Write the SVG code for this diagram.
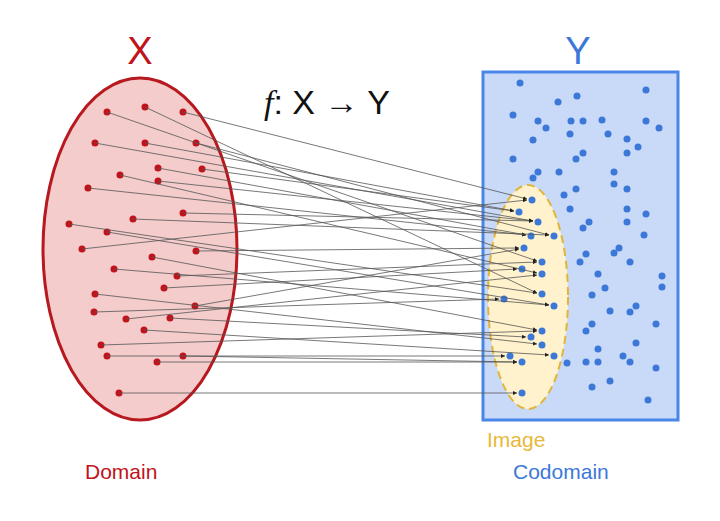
<svg xmlns="http://www.w3.org/2000/svg" width="720" height="521" viewBox="0 0 720 521">
<style>
.r{fill:#c0131b}
.b{fill:#3c78d8}
.c{stroke:#555;stroke-width:0.8;fill:none;marker-end:url(#a)}
text{font-family:"Liberation Sans",Arial,sans-serif}
</style>
<defs>
<marker id="a" viewBox="0 0 6 6" refX="6" refY="3" markerWidth="5" markerHeight="5" orient="auto"><path d="M0,0L6,3L0,6z" fill="#222"/></marker>
</defs>
<rect width="720" height="521" fill="#fff"/>
<g id="codomain">
<rect x="483" y="72" width="195" height="348" fill="#c9daf8" stroke="#4a86e8" stroke-width="3"/>
<g class="b">
<circle cx="520" cy="83" r="3.5"/><circle cx="646" cy="90" r="3.5"/><circle cx="577" cy="96" r="3.5"/><circle cx="558" cy="102" r="3.5"/><circle cx="513" cy="115" r="3.5"/><circle cx="538" cy="121" r="3.5"/><circle cx="546" cy="128" r="3.5"/><circle cx="571" cy="121" r="3.5"/><circle cx="583" cy="121" r="3.5"/><circle cx="602" cy="120" r="3.5"/><circle cx="646" cy="121" r="3.5"/><circle cx="659" cy="128" r="3.5"/><circle cx="570" cy="134" r="3.5"/><circle cx="608" cy="134" r="3.5"/><circle cx="627" cy="139" r="3.5"/><circle cx="533" cy="140" r="3.5"/><circle cx="638" cy="147" r="3.5"/><circle cx="627" cy="153" r="3.5"/><circle cx="583" cy="153" r="3.5"/><circle cx="576" cy="159" r="3.5"/><circle cx="513" cy="159" r="3.5"/><circle cx="538" cy="172" r="3.5"/><circle cx="533" cy="178" r="3.5"/><circle cx="559" cy="172" r="3.5"/><circle cx="614" cy="172" r="3.5"/><circle cx="614" cy="184" r="3.5"/><circle cx="627" cy="189" r="3.5"/><circle cx="576" cy="189" r="3.5"/><circle cx="564" cy="195" r="3.5"/><circle cx="570" cy="209" r="3.5"/><circle cx="627" cy="209" r="3.5"/><circle cx="646" cy="214" r="3.5"/><circle cx="627" cy="222" r="3.5"/><circle cx="589" cy="222" r="3.5"/><circle cx="583" cy="228" r="3.5"/><circle cx="644" cy="235" r="3.5"/><circle cx="619" cy="248" r="3.5"/><circle cx="614" cy="253" r="3.5"/><circle cx="586" cy="254" r="3.5"/><circle cx="580" cy="262" r="3.5"/><circle cx="630" cy="262" r="3.5"/><circle cx="598" cy="274" r="3.5"/><circle cx="662" cy="276" r="3.5"/><circle cx="662" cy="287" r="3.5"/><circle cx="605" cy="288" r="3.5"/><circle cx="592" cy="295" r="3.5"/><circle cx="636" cy="306" r="3.5"/><circle cx="630" cy="312" r="3.5"/><circle cx="610" cy="311" r="3.5"/><circle cx="656" cy="324" r="3.5"/><circle cx="592" cy="324" r="3.5"/><circle cx="586" cy="331" r="3.5"/><circle cx="636" cy="343" r="3.5"/><circle cx="598" cy="349" r="3.5"/><circle cx="567" cy="363" r="3.5"/><circle cx="586" cy="362" r="3.5"/><circle cx="598" cy="362" r="3.5"/><circle cx="623" cy="356" r="3.5"/><circle cx="630" cy="362" r="3.5"/><circle cx="656" cy="368" r="3.5"/><circle cx="610" cy="381" r="3.5"/><circle cx="592" cy="387" r="3.5"/><circle cx="648" cy="400" r="3.5"/>
</g>
</g>
<g id="image">
<ellipse cx="528" cy="297" rx="40" ry="112" fill="#fff2cc" stroke="#e0b53a" stroke-width="2" stroke-dasharray="8,5"/>
<g class="b">
<circle cx="532" cy="200" r="3.5"/><circle cx="519" cy="212" r="3.5"/><circle cx="538" cy="222" r="3.5"/><circle cx="531" cy="236" r="3.5"/><circle cx="554" cy="236" r="3.5"/><circle cx="524" cy="248" r="3.5"/><circle cx="542" cy="262" r="3.5"/><circle cx="522" cy="269" r="3.5"/><circle cx="542" cy="274" r="3.5"/><circle cx="504" cy="299" r="3.5"/><circle cx="542" cy="294" r="3.5"/><circle cx="554" cy="306" r="3.5"/><circle cx="542" cy="331" r="3.5"/><circle cx="531" cy="337" r="3.5"/><circle cx="542" cy="345" r="3.5"/><circle cx="510" cy="356" r="3.5"/><circle cx="554" cy="356" r="3.5"/><circle cx="522" cy="362" r="3.5"/><circle cx="522" cy="393" r="3.5"/>
</g>
</g>
<g id="domain">
<ellipse cx="140" cy="249" rx="97" ry="171" fill="#f4cccc" stroke="#b7191f" stroke-width="3"/>
<g class="r">
<circle cx="107" cy="112" r="3.5"/><circle cx="145" cy="107" r="3.5"/><circle cx="183" cy="112" r="3.5"/><circle cx="95" cy="143" r="3.5"/><circle cx="145" cy="143" r="3.5"/><circle cx="196" cy="143" r="3.5"/><circle cx="158" cy="168" r="3.5"/><circle cx="202" cy="169" r="3.5"/><circle cx="120" cy="175" r="3.5"/><circle cx="158" cy="181" r="3.5"/><circle cx="88" cy="188" r="3.5"/><circle cx="183" cy="213" r="3.5"/><circle cx="133" cy="219" r="3.5"/><circle cx="69" cy="224" r="3.5"/><circle cx="107" cy="232" r="3.5"/><circle cx="82" cy="249" r="3.5"/><circle cx="196" cy="251" r="3.5"/><circle cx="152" cy="257" r="3.5"/><circle cx="114" cy="269" r="3.5"/><circle cx="177" cy="276" r="3.5"/><circle cx="164" cy="288" r="3.5"/><circle cx="95" cy="294" r="3.5"/><circle cx="195" cy="306" r="3.5"/><circle cx="94" cy="312" r="3.5"/><circle cx="126" cy="319" r="3.5"/><circle cx="170" cy="318" r="3.5"/><circle cx="144" cy="330" r="3.5"/><circle cx="101" cy="345" r="3.5"/><circle cx="107" cy="356" r="3.5"/><circle cx="183" cy="356" r="3.5"/><circle cx="157" cy="362" r="3.5"/><circle cx="119" cy="393" r="3.5"/>
</g>
</g>
<g id="connectors" class="c">
<path d="M107,112L537,261"/><path d="M145,107L537,293"/><path d="M183,112L527,199"/><path d="M95,143L533,221"/><path d="M145,143L514,211"/><path d="M196,143L549,235"/><path d="M158,168L526,235"/><path d="M202,169L514,211"/><path d="M120,175L537,273"/><path d="M158,181L533,221"/><path d="M88,188L526,235"/><path d="M183,213L533,221"/><path d="M133,219L549,235"/><path d="M69,224L537,293"/><path d="M107,232L549,305"/><path d="M82,249L527,200"/><path d="M196,251L519,248"/><path d="M152,257L537,330"/><path d="M114,269L549,305"/><path d="M177,276L537,262"/><path d="M164,288L517,269"/><path d="M95,294L537,344"/><path d="M195,306L519,249"/><path d="M94,312L499,299"/><path d="M126,319L537,275"/><path d="M170,318L526,337"/><path d="M144,330L549,355"/><path d="M101,345L537,331"/><path d="M107,356L505,356"/><path d="M183,356L517,362"/><path d="M157,362L517,362"/><path d="M119,393L517,393"/>
</g>
<g id="labels">
<text x="140" y="64" font-size="38" fill="#c0131b" text-anchor="middle">X</text>
<text x="578" y="64" font-size="38" fill="#3c78d8" text-anchor="middle">Y</text>
<text x="264" y="114" font-size="34" fill="#111"><tspan font-family="Liberation Serif,serif" font-style="italic">f</tspan>: X → Y</text>
<text x="85" y="479" font-size="21" fill="#c0131b">Domain</text>
<text x="487" y="447" font-size="21" fill="#e8b83a">Image</text>
<text x="513" y="479" font-size="21" fill="#3c78d8">Codomain</text>
</g>
</svg>
